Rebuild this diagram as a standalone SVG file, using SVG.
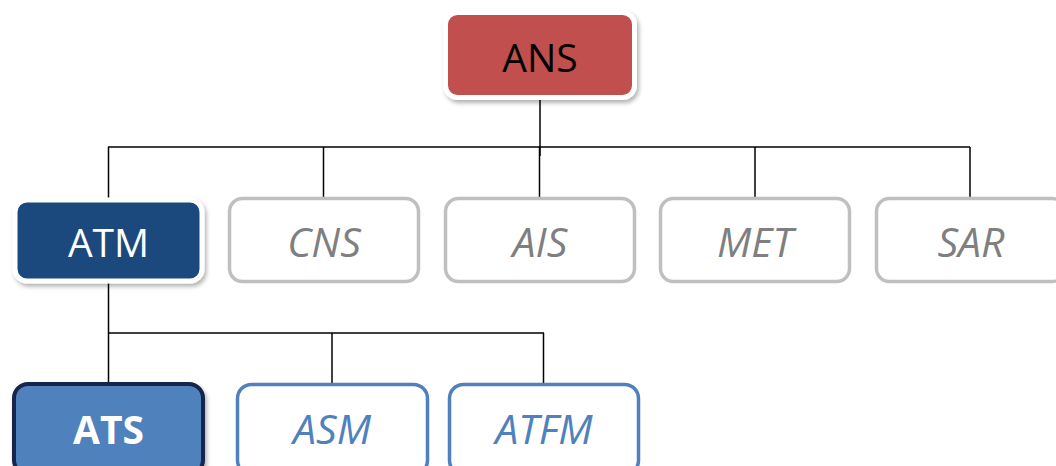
<svg xmlns="http://www.w3.org/2000/svg" width="1056" height="466" viewBox="0 0 1056 466">
<style>
.t{font-family:"Open Sans","Liberation Sans",sans-serif;font-size:39px;text-anchor:middle;dominant-baseline:central}
.gray rect{fill:#fff;stroke:#bfbfbf;stroke-width:3.5}
.gray text{fill:#7f7f7f;font-style:italic;font-size:41px}
.blue rect{fill:#fff;stroke:#4f81bd;stroke-width:3.5}
.blue text{fill:#4f81bd;font-style:italic;font-size:41px}
.conn line{stroke:#000;stroke-width:1.5}
</style>
<defs>
<filter id="sh" x="-10%" y="-10%" width="125%" height="130%">
<feDropShadow dx="2" dy="3" stdDeviation="2" flood-color="#000" flood-opacity="0.3"/>
</filter>
</defs>
<g class="conn">
<line x1="540" y1="96" x2="540" y2="156" stroke-width="2"/>
<line x1="108" y1="147" x2="970" y2="147"/>
<line x1="108.5" y1="147" x2="108.5" y2="200"/>
<line x1="323.5" y1="147" x2="323.5" y2="198"/>
<line x1="539.5" y1="147" x2="539.5" y2="198"/>
<line x1="755" y1="147" x2="755" y2="198"/>
<line x1="970" y1="147" x2="970" y2="198"/>
<line x1="108.5" y1="282" x2="108.5" y2="384"/>
<line x1="108" y1="333" x2="544" y2="333"/>
<line x1="332" y1="333" x2="332" y2="384"/>
<line x1="543.5" y1="333" x2="543.5" y2="384"/>
</g>
<g id="ANS">
<rect x="445.5" y="12.5" width="189" height="85" rx="12" fill="#c0504d" stroke="#fff" stroke-width="5" filter="url(#sh)"/>
<text class="t" x="540" y="56" fill="#000">ANS</text>
</g>
<g id="ATM">
<rect x="15" y="200" width="187" height="81" rx="12" fill="#1f497d" stroke="#fff" stroke-width="5" filter="url(#sh)"/>
<text class="t" x="108.5" y="241" fill="#fff">ATM</text>
</g>
<g id="CNS" class="gray">
<rect x="229.5" y="198.5" width="189" height="83" rx="13"/>
<text class="t" x="324" y="241">CNS</text>
</g>
<g id="AIS" class="gray">
<rect x="445.5" y="198.5" width="189" height="83" rx="13"/>
<text class="t" x="540" y="241">AIS</text>
</g>
<g id="MET" class="gray">
<rect x="660.5" y="198.5" width="189" height="83" rx="13"/>
<text class="t" x="755" y="241">MET</text>
</g>
<g id="SAR" class="gray">
<rect x="876.5" y="198.5" width="189" height="83" rx="13"/>
<text class="t" x="971" y="241">SAR</text>
</g>
<g id="ATS">
<rect x="14" y="384" width="189" height="90" rx="14" fill="#4f81bd" stroke="#14284b" stroke-width="4" filter="url(#sh)"/>
<text class="t" x="108.5" y="428" fill="#fff" font-weight="bold" font-size="37">ATS</text>
</g>
<g id="ASM" class="blue">
<rect x="237.5" y="384.5" width="190" height="90" rx="14"/>
<text class="t" x="332" y="428">ASM</text>
</g>
<g id="ATFM" class="blue">
<rect x="449.5" y="384.5" width="189" height="90" rx="14"/>
<text class="t" x="544" y="428">ATFM</text>
</g>
</svg>
